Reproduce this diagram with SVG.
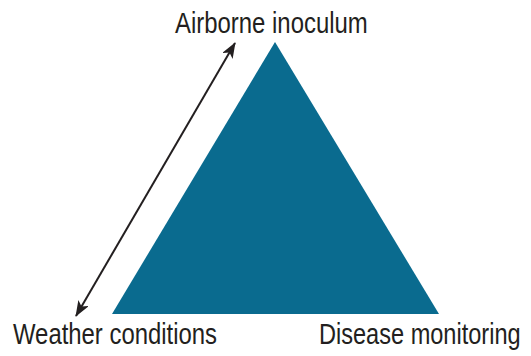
<svg xmlns="http://www.w3.org/2000/svg" width="531" height="356" viewBox="0 0 531 356">
<style>
.lbl{font-family:"Liberation Sans",Arial,sans-serif;font-size:29px;fill:#231f20}
.conn{stroke:#231f20;stroke-width:2;fill:none}
</style>
<defs>
<marker id="ah" viewBox="0 0 16 12" refX="15" refY="6" markerWidth="16" markerHeight="12" markerUnits="userSpaceOnUse" orient="auto-start-reverse">
<path d="M0,0 L16,6 L0,12 L4,6 Z" fill="#231f20"/>
</marker>
</defs>
<g id="triangle">
<polygon points="275,42 112,314 439,314" fill="#0a6b8f"/>
</g>
<g id="connectors">
<line class="conn" x1="76" y1="316" x2="235" y2="43" marker-start="url(#ah)" marker-end="url(#ah)"/>
</g>
<g id="airborne">
<text class="lbl" transform="translate(175,33) scale(0.8,1)" x="0" y="0" textLength="241" lengthAdjust="spacingAndGlyphs">Airborne inoculum</text>
</g>
<g id="weather">
<text class="lbl" transform="translate(13,344) scale(0.8,1)" x="0" y="0" textLength="255" lengthAdjust="spacingAndGlyphs">Weather conditions</text>
</g>
<g id="disease">
<text class="lbl" transform="translate(319,344) scale(0.8,1)" x="0" y="0" textLength="252" lengthAdjust="spacingAndGlyphs">Disease monitoring</text>
</g>
</svg>
